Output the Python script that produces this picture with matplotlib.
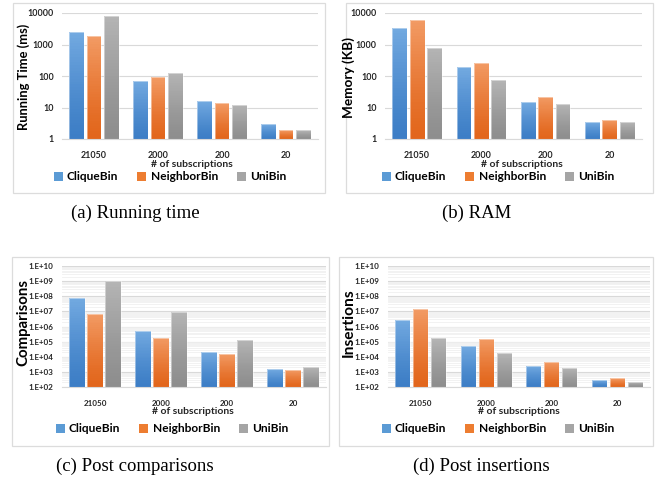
import numpy as np
import matplotlib
matplotlib.use('Agg')
from matplotlib import pyplot as plt
from matplotlib.patches import Rectangle, Patch
from matplotlib.colors import LinearSegmentedColormap
from matplotlib.ticker import FixedLocator, NullFormatter

categories = ['21050', '2000', '200', '20']
series = ['CliqueBin', 'NeighborBin', 'UniBin']

time_clique = [2430, 71, 15.7, 3.0]
time_neighbor = [1820, 91, 13.5, 1.9]
time_uni = [8230, 128, 12.3, 1.9]

ram_clique = [3420, 188, 14.6, 3.4]
ram_neighbor = [5850, 265, 22, 4.1]
ram_uni = [790, 75, 13.2, 3.4]

cmp_clique = [7.9e7, 4.9e5, 2.2e4, 1.5e3]
cmp_neighbor = [6.6e6, 1.86e5, 1.6e4, 1.35e3]
cmp_uni = [9.6e8, 8.9e6, 1.3e5, 2.1e3]

ins_clique = [2.6e6, 5.2e4, 2.6e3, 290]
ins_neighbor = [1.34e7, 1.6e5, 4.8e3, 370]
ins_uni = [1.7e5, 1.7e4, 1.9e3, 215]

# (dark bottom, light top) per series
colors = [('#3d7ec6', '#72a9e0'), ('#e2661c', '#f29a63'), ('#8e8e8e', '#b4b4b4')]
legend_colors = ['#5b9bd5', '#ed7d31', '#a5a5a5']

W, H = 664, 484
fig = plt.figure(figsize=(W / 100, H / 100), dpi=100)
sans = ['Lato', 'DejaVu Sans']
serif = ['Liberation Serif', 'DejaVu Serif']


def px(x0, y0, x1, y1):
    return [x0 / W, 1 - y1 / H, (x1 - x0) / W, (y1 - y0) / H]


def draw_panel(rect, box, data, ylim, ylabel, ylabel_pos, ylabel_size, sci, xlabel_pos, legend_pos,
               caption, caption_pos):
    fig.add_artist(Rectangle((box[0] / W, 1 - box[3] / H), (box[2] - box[0]) / W, (box[3] - box[1]) / H,
                             transform=fig.transFigure, fill=False, edgecolor='#dcdcdc', lw=0.9))
    ax = fig.add_axes(px(*rect))
    ax.set_yscale('log')
    ax.set_ylim(*ylim)
    ax.set_xlim(-0.5, len(categories) - 0.5)
    x = np.arange(len(categories))
    width = 0.23
    step = 0.272
    for i, vals in enumerate(data):
        cmap = LinearSegmentedColormap.from_list('g%d' % i, colors[i])
        for j, v in enumerate(vals):
            xc = x[j] + (i - 1) * step
            ys = np.geomspace(ylim[0], v, 40)
            X, Y = np.meshgrid([xc - width / 2, xc + width / 2], ys)
            C = np.linspace(0, 1, 39)[:, None] ** 1.3
            ax.pcolormesh(X, Y, C, cmap=cmap, vmin=0, vmax=1, shading='flat', zorder=2)
        ax.bar(x + (i - 1) * step, np.array(vals) - ylim[0], width, bottom=ylim[0],
               facecolor='none', edgecolor='#ffffff', linewidth=0.6, alpha=0.5, zorder=3)
    decades = np.arange(int(np.log10(ylim[0])), int(np.log10(ylim[1])) + 1)
    ticks = 10.0 ** decades
    ax.yaxis.set_major_locator(FixedLocator(ticks))
    if sci:
        ax.set_yticklabels(['1.E+%02d' % d for d in decades])
        minor = [m * 10.0 ** d for d in decades[:-1] for m in range(2, 10)]
        ax.yaxis.set_minor_locator(FixedLocator(minor))
        ax.yaxis.set_minor_formatter(NullFormatter())
        ax.grid(True, which='minor', axis='y', color='#f0f0f0', lw=0.6, zorder=0)
    else:
        ax.set_yticklabels(['%d' % t for t in ticks])
        ax.yaxis.set_minor_locator(FixedLocator([]))
    ax.grid(True, which='major', axis='y', color='#d9d9d9', lw=0.8, zorder=1)
    ax.set_xticks(x)
    ax.set_xticklabels(categories)
    for s in ['top', 'right', 'left']:
        ax.spines[s].set_visible(False)
    ax.spines['bottom'].set_color('#d9d9d9')
    ax.tick_params(which='both', length=0, pad=6)
    ax.tick_params(axis='x', pad=9)
    for lab in ax.get_xticklabels() + ax.get_yticklabels():
        lab.set_fontfamily(sans)
        lab.set_fontweight('bold')
        lab.set_fontsize(5.8 if sci else 6.4)
        lab.set_color('#262626')
    ax.set_axisbelow(True)
    fig.text(ylabel_pos[0] / W, 1 - ylabel_pos[1] / H, ylabel, rotation=90, ha='center', va='center',
             family=sans, weight='bold', fontsize=ylabel_size, color='#000000')
    fig.text(xlabel_pos[0] / W, 1 - xlabel_pos[1] / H, '# of subscriptions', ha='center', va='center',
             family=sans, weight='bold', fontsize=7.5, color='#262626')
    handles = [Patch(facecolor=c, edgecolor='none') for c in legend_colors]
    fig.legend(handles, series, loc='center', bbox_to_anchor=(legend_pos[0] / W, 1 - legend_pos[1] / H),
               ncol=3, frameon=False, handlelength=0.75, handleheight=0.75, handletextpad=0.35,
               columnspacing=1.6, prop={'family': sans, 'weight': 'bold', 'size': 8.6})
    fig.text(caption_pos[0] / W, 1 - caption_pos[1] / H, caption, ha='center', va='center',
             family=serif, fontsize=13.5, color='#000000')
    return ax


draw_panel((62, 13, 318, 139), (13, 3, 325, 193), [time_clique, time_neighbor, time_uni], (1, 10000),
           'Running Time (ms)', (24, 77), 9.3, False, (192, 165), (170, 177), '(a) Running time', (135, 213))
draw_panel((385, 13, 642, 139), (346, 3, 653, 193), [ram_clique, ram_neighbor, ram_uni], (1, 10000),
           'Memory (KB)', (349, 77), 9.8, False, (522, 165), (498, 177), '(b) RAM', (477, 213))
draw_panel((62, 266, 326, 387), (12, 257, 329, 446), [cmp_clique, cmp_neighbor, cmp_uni], (1e2, 1e10),
           'Comparisons', (23, 322), 10.8, True, (193, 412), (172, 429), '(c) Post comparisons', (135, 466))
draw_panel((388, 266, 650, 387), (339, 257, 653, 446), [ins_clique, ins_neighbor, ins_uni], (1e2, 1e10),
           'Insertions', (349, 323), 11.2, True, (519, 412), (498, 429), '(d) Post insertions', (481, 466))

fig.savefig('out.png', dpi=100)
